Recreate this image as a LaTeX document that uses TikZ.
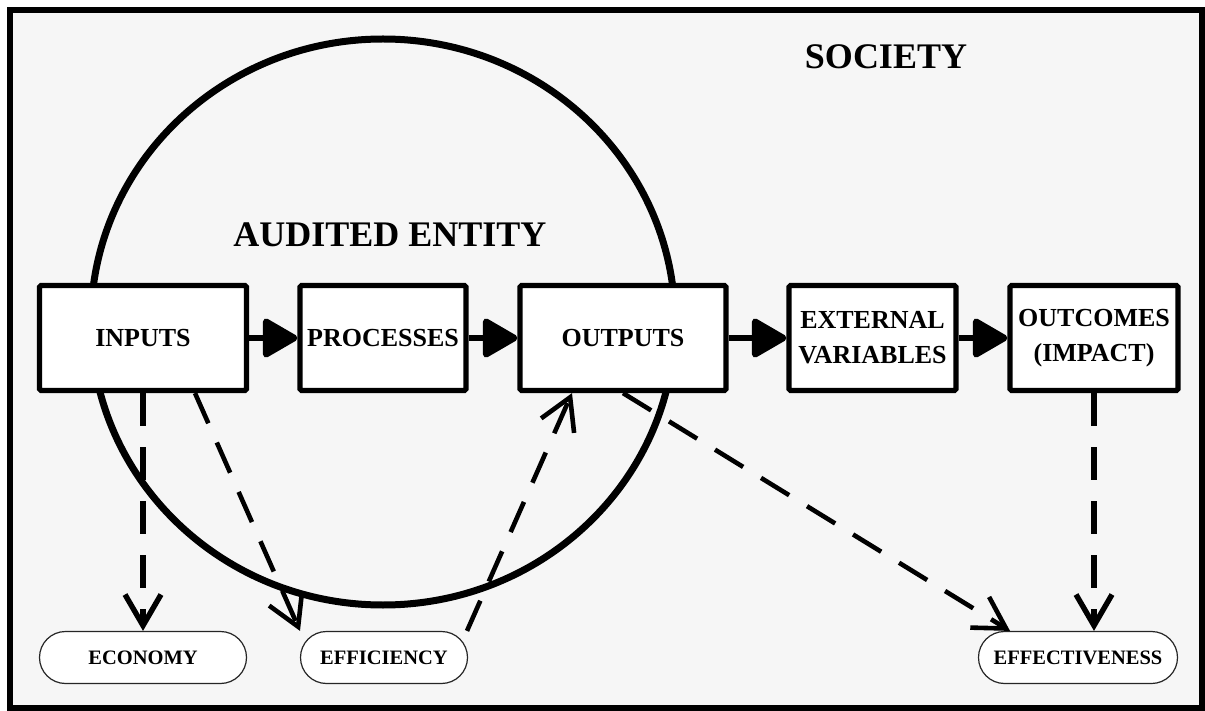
\documentclass[tikz,border=0pt]{standalone}
\usepackage{fontspec}
\setmainfont{Liberation Serif}
\usetikzlibrary{arrows.meta,shapes.misc,calc}
\definecolor{bg}{HTML}{F6F6F6}
\begin{document}
\begin{tikzpicture}[x=1pt,y=-1pt,
  box/.style={draw,line width=5.2pt,fill=white,rounded corners=1.5pt,minimum height=105pt,inner sep=0pt,align=center,font=\bfseries\fontsize{26}{35}\selectfont},
  pill/.style={draw=black!85,line width=1.2pt,fill=white,rounded rectangle,minimum height=52pt,inner sep=0pt,font=\bfseries\fontsize{20.5}{24}\selectfont},
  flow/.style={line width=6.5pt,-{Triangle[length=38pt,width=42pt,round]}},
  measure/.style={line width=4.6pt,dash pattern=on 33pt off 21pt,-{Straight Barb[length=31pt,width=36pt]}},
  measurev/.style={measure,line width=5.4pt},
  title/.style={font=\bfseries\fontsize{36}{40}\selectfont}
]
\useasboundingbox (0,0) rectangle (1205,711);
\fill[white] (0,0) rectangle (1205,711);
\draw[line width=6.8pt,fill=bg] (10,10) rectangle (1202,708);
\draw[line width=7pt] (383,322) ellipse [x radius=292pt, y radius=283pt];

\node[title] (society) at (886,57) {SOCIETY};
\node[title] (entity) at (390,235) {AUDITED ENTITY};

\node[box,minimum width=207pt] (inputs) at (143,338) {INPUTS};
\node[box,minimum width=166pt] (processes) at (383,338) {PROCESSES};
\node[box,minimum width=206pt] (outputs) at (623,338) {OUTPUTS};
\node[box,minimum width=167pt] (external) at (872.5,338) {EXTERNAL\\VARIABLES};
\node[box,minimum width=168pt] (outcomes) at (1094,338) {OUTCOMES\\(IMPACT)};

\node[pill,minimum width=207pt] (economy) at (143,657.5) {ECONOMY};
\node[pill,minimum width=167pt] (efficiency) at (384,657.5) {EFFICIENCY};
\node[pill,minimum width=199pt] (effectiveness) at (1078,657.5) {EFFECTIVENESS};

\draw[flow] (inputs.east) -- (processes.west);
\draw[flow] (processes.east) -- (outputs.west);
\draw[flow] (outputs.east) -- (external.west);
\draw[flow] (external.east) -- (outcomes.west);

\draw[measurev] (inputs.south) -- (economy.north);
\draw[measure] ([xshift=52pt]inputs.south) -- ([xshift=-84pt]efficiency.north);
\draw[measure] ([xshift=83pt]efficiency.north) -- ([xshift=-51pt]outputs.south);
\draw[measure] (outputs.south) -- ([xshift=-68pt]effectiveness.north);
\draw[measurev] (outcomes.south) -- (outcomes.south |- effectiveness.north);
\end{tikzpicture}
\end{document}
